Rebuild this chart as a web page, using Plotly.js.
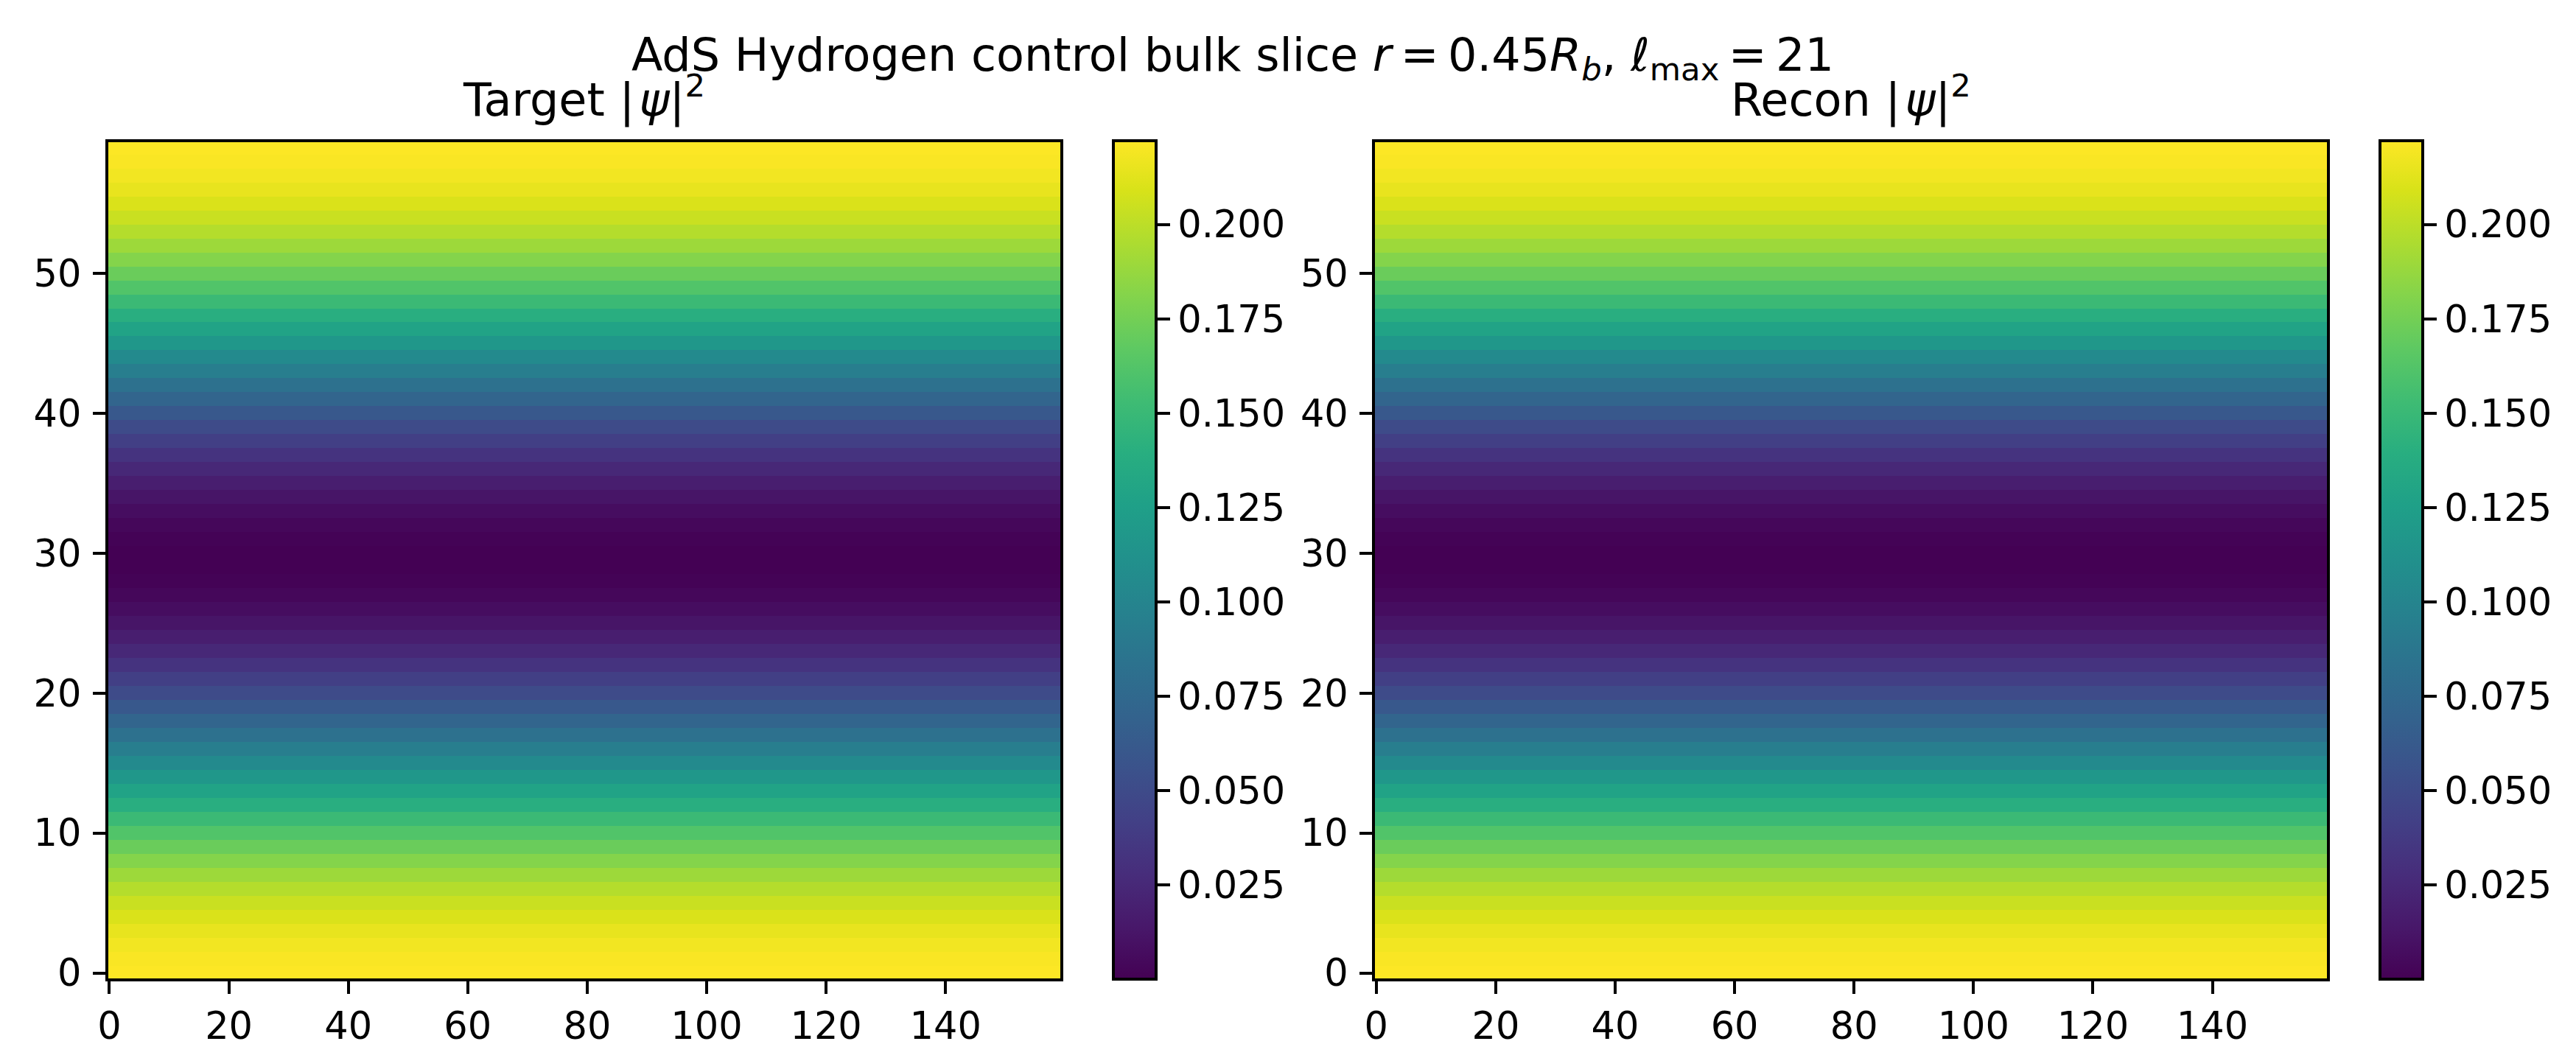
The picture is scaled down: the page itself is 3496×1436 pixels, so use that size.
<!DOCTYPE html><html><head><script src="https://cdn.plot.ly/plotly-3.0.1.min.js"></script><style>html,body{margin:0;padding:0;background:#fff}</style></head><body><div id="c" style="width:3496px;height:1436px"></div><script>
// density per row, bottom row first
const targetRows=[0.2219,0.2207,0.2183,0.2146,0.2098,0.2042,0.1973,0.1898,0.1812,0.1716,0.1614,0.1508,0.1398,0.1284,0.1169,0.1052,0.0937,0.0823,0.0712,0.0606,0.0506,0.0411,0.0325,0.0247,0.0179,0.0121,0.0074,0.0038,0.0014,0.0002,0.0002,0.0014,0.0038,0.0074,0.0121,0.0179,0.0247,0.0325,0.0411,0.0506,0.0606,0.0712,0.0823,0.0937,0.1052,0.1169,0.1284,0.1398,0.1508,0.1614,0.1716,0.1812,0.1898,0.1973,0.2042,0.2098,0.2146,0.2183,0.2207,0.2219];
const reconRows=[0.2219,0.2207,0.2183,0.2146,0.2098,0.2042,0.1973,0.1898,0.1812,0.1716,0.1614,0.1508,0.1398,0.1284,0.1169,0.1052,0.0937,0.0823,0.0712,0.0606,0.0506,0.0411,0.0325,0.0247,0.0179,0.0121,0.0074,0.0038,0.0014,0.0002,0.0002,0.0014,0.0038,0.0074,0.0121,0.0179,0.0247,0.0325,0.0411,0.0506,0.0606,0.0712,0.0823,0.0937,0.1052,0.1169,0.1284,0.1398,0.1508,0.1614,0.1716,0.1812,0.1898,0.1973,0.2042,0.2098,0.2146,0.2183,0.2207,0.2219];
const columnCount=160;
const xTicks=[0,20,40,60,80,100,120,140];
const yTicks=[0,10,20,30,40,50];
const cbTicks=[0.025,0.05,0.075,0.1,0.125,0.15,0.175,0.2];
const zMin=0.00005, zMax=0.2221;
const mainTitle='AdS Hydrogen control bulk slice <i>r</i>\u2009=\u20090.45<i>R</i><sub><i>b</i></sub>, <i>\u2113</i><sub>max</sub>\u2009=\u200921';
const leftTitle='Target |\u200a<i>\u03c8</i>|<sup>2</sup>';
const rightTitle='Recon |\u200a<i>\u03c8</i>|<sup>2</sup>';

const W=3496,H=1436;
const grid=rows=>rows.map(v=>new Array(columnCount).fill(v));
const tf={family:'DejaVu Sans',size:51,color:'#000'};
const frame={showline:true,mirror:true,linecolor:'#000',linewidth:4,ticks:'outside',ticklen:17,tickwidth:4,tickcolor:'#000',showgrid:false,zeroline:false,tickangle:0,tickfont:tf};
const xa=(a,b,an)=>Object.assign({},frame,{domain:[a/W,b/W],range:[-0.22,159.22],tickvals:xTicks,ticktext:xTicks.map(String),anchor:an});
const ya=(an)=>Object.assign({},frame,{domain:[1-1328/H,1-192.7/H],range:[-0.395,59.395],tickvals:yTicks,ticktext:yTicks.map(String),anchor:an,ticklabelstandoff:5});
const cb=x=>({x:x/W,xanchor:'left',xref:'paper',y:0.5*(2-(1330+190.7)/H),yanchor:'middle',yref:'paper',len:1138/H,lenmode:'fraction',thickness:58,thicknessmode:'pixels',xpad:0,ypad:0,outlinecolor:'#000',outlinewidth:4,ticks:'outside',ticklen:17.5,tickwidth:4,tickcolor:'#000',tickmode:'array',tickvals:cbTicks,tickformat:'.3f',tickprefix:'\u200b\u200a',tickfont:tf});
const trace=(rows,xn,yn,cx)=>({type:'heatmap',z:grid(rows),x0:0,dx:1,y0:0,dy:1,colorscale:'Viridis',zmin:zMin,zmax:zMax,zsmooth:false,xaxis:xn,yaxis:yn,colorbar:cb(cx),hoverinfo:'skip'});
const annot=(text,x)=>({text,x:x/W,xref:'paper',y:1-175/H,yref:'paper',xanchor:'center',yanchor:'bottom',showarrow:false,font:{family:'DejaVu Sans',size:62,color:'#000'}});
Plotly.newPlot('c',[trace(targetRows,'x','y',1510.5),trace(reconRows,'x2','y2',3230)],{
 width:W,height:H,showlegend:false,margin:{l:0,r:0,t:0,b:0,autoexpand:false},paper_bgcolor:'#fff',plot_bgcolor:'#fff',
 title:{text:mainTitle,x:1673/W,xanchor:'center',y:1-74/H,yanchor:'middle',font:{family:'DejaVu Sans',size:62,color:'#000'}},
 xaxis:xa(146.7,1439,'y'),yaxis:ya('x'),xaxis2:xa(1866,3158.3,'y2'),yaxis2:ya('x2'),
 annotations:[annot(leftTitle,792),annot(rightTitle,2512)]
},{displayModeBar:false});
</script></body></html>
